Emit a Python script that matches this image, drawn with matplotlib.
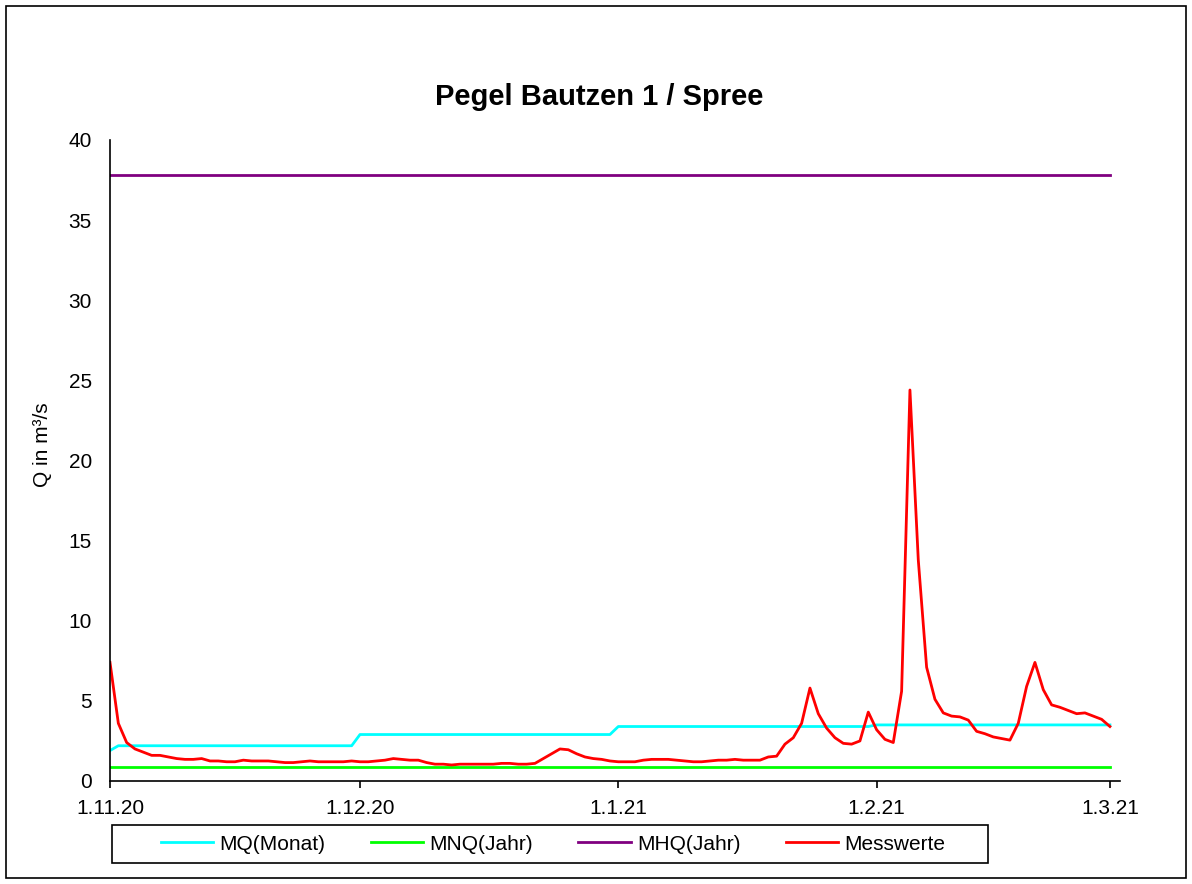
import matplotlib
matplotlib.use("Agg")
import matplotlib.pyplot as plt
from matplotlib.patches import Rectangle
import pandas as pd

plt.rcParams['font.family'] = ['Liberation Sans', 'DejaVu Sans']

# Tageswerte 1.11.20 - 1.3.21
tage = pd.date_range("2020-11-01", "2021-03-01", freq="D")

messwerte = [7.4, 3.6, 2.4, 2.0, 1.8, 1.6, 1.6, 1.5, 1.4, 1.35,
             1.35, 1.4, 1.25, 1.25, 1.2, 1.2, 1.3, 1.25, 1.25, 1.25,
             1.2, 1.15, 1.15, 1.2, 1.25, 1.2, 1.2, 1.2, 1.2, 1.25,
             1.2, 1.2, 1.25, 1.3, 1.4, 1.35, 1.3, 1.3, 1.15, 1.05,
             1.05, 1.0, 1.05, 1.05, 1.05, 1.05, 1.05, 1.1, 1.1, 1.05,
             1.05, 1.1, 1.4, 1.7, 2.0, 1.95, 1.7, 1.5, 1.4, 1.35,
             1.25, 1.2, 1.2, 1.2, 1.3, 1.35, 1.35, 1.35, 1.3, 1.25,
             1.2, 1.2, 1.25, 1.3, 1.3, 1.35, 1.3, 1.3, 1.3, 1.5,
             1.55, 2.3, 2.7, 3.6, 5.8, 4.2, 3.3, 2.7, 2.35, 2.3,
             2.5, 4.3, 3.2, 2.6, 2.4, 5.6, 24.4, 13.8, 7.1, 5.1,
             4.25, 4.05, 4.0, 3.8, 3.1, 2.95, 2.75, 2.65, 2.55, 3.6,
             5.9, 7.4, 5.7, 4.75, 4.6, 4.4, 4.2, 4.25, 4.05, 3.85,
             3.4]

# MQ je Monat (Okt, Nov, Dez, Jan, Feb)
mq_monat = {10: 1.9, 11: 2.2, 12: 2.9, 1: 3.4, 2: 3.5}
mnq_jahr = 0.9
mhq_jahr = 37.8

# erster Wert noch vom Vormonat, letzter Punkt gehoert noch zum Februar
mq = [mq_monat[10]] + [mq_monat[t.month] for t in tage[1:-1]] + [mq_monat[2]]

fig = plt.figure(figsize=(11.92, 8.84), dpi=100)
ax = fig.add_axes([110/1192, 1-781/884, 1010/1192, 641/884])

ax.plot(tage, mq, color='#00FFFF', lw=2, label='MQ(Monat)')
ax.plot(tage, [mnq_jahr]*len(tage), color='#00FF00', lw=2, label='MNQ(Jahr)')
ax.plot(tage, [mhq_jahr]*len(tage), color='#800080', lw=2, label='MHQ(Jahr)')
ax.plot(tage, messwerte, color='#FF0000', lw=2, label='Messwerte')

ax.set_ylim(0, 40)
ax.set_xlim(tage[0], tage[-1] + pd.Timedelta(hours=29))
ax.set_yticks(range(0, 41, 5))
ax.tick_params(axis='y', length=0, labelsize=15, pad=13)

xticks = pd.to_datetime(["2020-11-01", "2020-12-01", "2021-01-01", "2021-02-01", "2021-03-01"])
ax.set_xticks(xticks)
ax.set_xticklabels(["1.11.20", "1.12.20", "1.1.21", "1.2.21", "1.3.21"])
ax.tick_params(axis='x', direction='out', length=5, width=1.2, labelsize=15, pad=8)

for s in ['top', 'right']:
    ax.spines[s].set_visible(False)
for s in ['left', 'bottom']:
    ax.spines[s].set_linewidth(1.2)

fig.text(42/1192, 1-445/884, 'Q in m³/s', rotation=90, ha='center', va='center', fontsize=15)
fig.text(599/1192, 1-97/884, 'Pegel Bautzen 1 / Spree', ha='center', va='center',
         fontsize=21, fontweight='bold')

# Legende unten mit eigenem Rahmen
fig.patches.append(Rectangle((112/1192, 1-863/884), 876/1192, 38/884, transform=fig.transFigure,
                             fill=False, edgecolor='black', lw=1.2))
fig.legend(loc='center', bbox_to_anchor=(553/1192, 1-844/884), ncol=4, fontsize=15,
           frameon=False, handlelength=2.5, handletextpad=0.3, columnspacing=2.2,
           borderpad=0, borderaxespad=0)

# Rahmen um das Diagramm
fig.patches.append(Rectangle((6/1192, 6/884), 1180/1192, 872/884, transform=fig.transFigure,
                             fill=False, edgecolor='black', lw=1.2))

fig.savefig('out.png', dpi=100)
